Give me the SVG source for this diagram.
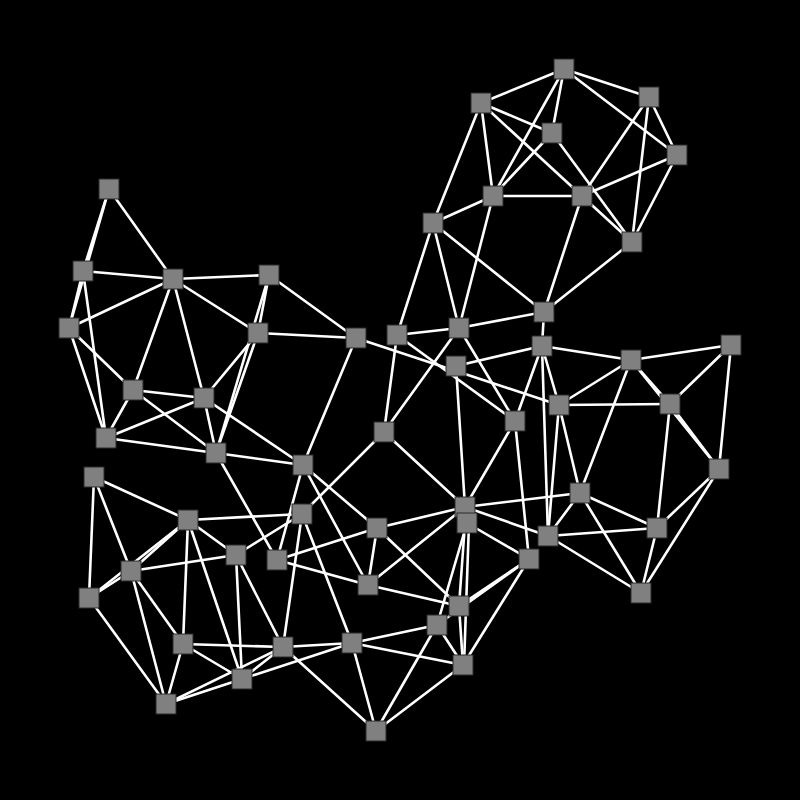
<svg xmlns="http://www.w3.org/2000/svg" width="800" height="800" viewBox="0 0 800 800">
<style>
.e line{stroke:#ffffff;stroke-width:2.6;stroke-linecap:round}
.n rect{fill:#808080;stroke:#2a2a2a;stroke-width:1;width:20px;height:20px}
</style>
<rect x="0" y="0" width="800" height="800" fill="#000000"/>
<g id="edges" class="e">
<line x1="109" y1="189" x2="83" y2="271"/>
<line x1="109" y1="189" x2="69" y2="328"/>
<line x1="109" y1="189" x2="173" y2="279"/>
<line x1="83" y1="271" x2="173" y2="279"/>
<line x1="83" y1="271" x2="69" y2="328"/>
<line x1="83" y1="271" x2="106" y2="438"/>
<line x1="173" y1="279" x2="269" y2="275"/>
<line x1="173" y1="279" x2="69" y2="328"/>
<line x1="173" y1="279" x2="133" y2="390"/>
<line x1="173" y1="279" x2="204" y2="398"/>
<line x1="173" y1="279" x2="258" y2="333"/>
<line x1="269" y1="275" x2="258" y2="333"/>
<line x1="269" y1="275" x2="216" y2="453"/>
<line x1="258" y1="333" x2="216" y2="453"/>
<line x1="269" y1="275" x2="356" y2="338"/>
<line x1="258" y1="333" x2="356" y2="338"/>
<line x1="258" y1="333" x2="204" y2="398"/>
<line x1="69" y1="328" x2="133" y2="390"/>
<line x1="69" y1="328" x2="106" y2="438"/>
<line x1="133" y1="390" x2="204" y2="398"/>
<line x1="133" y1="390" x2="106" y2="438"/>
<line x1="133" y1="390" x2="216" y2="453"/>
<line x1="204" y1="398" x2="106" y2="438"/>
<line x1="204" y1="398" x2="216" y2="453"/>
<line x1="204" y1="398" x2="303" y2="465"/>
<line x1="106" y1="438" x2="216" y2="453"/>
<line x1="216" y1="453" x2="303" y2="465"/>
<line x1="356" y1="338" x2="303" y2="465"/>
<line x1="216" y1="453" x2="277" y2="560"/>
<line x1="303" y1="465" x2="277" y2="560"/>
<line x1="303" y1="465" x2="377" y2="528"/>
<line x1="303" y1="465" x2="368" y2="585"/>
<line x1="356" y1="338" x2="559" y2="405"/>
<line x1="188" y1="520" x2="94" y2="477"/>
<line x1="188" y1="520" x2="302" y2="514"/>
<line x1="188" y1="520" x2="236" y2="555"/>
<line x1="188" y1="520" x2="131" y2="571"/>
<line x1="188" y1="520" x2="89" y2="598"/>
<line x1="131" y1="571" x2="89" y2="598"/>
<line x1="188" y1="520" x2="183" y2="644"/>
<line x1="188" y1="520" x2="242" y2="679"/>
<line x1="94" y1="477" x2="89" y2="598"/>
<line x1="94" y1="477" x2="131" y2="571"/>
<line x1="131" y1="571" x2="236" y2="555"/>
<line x1="131" y1="571" x2="183" y2="644"/>
<line x1="131" y1="571" x2="166" y2="704"/>
<line x1="89" y1="598" x2="166" y2="704"/>
<line x1="236" y1="555" x2="302" y2="514"/>
<line x1="236" y1="555" x2="242" y2="679"/>
<line x1="236" y1="555" x2="283" y2="647"/>
<line x1="277" y1="560" x2="377" y2="528"/>
<line x1="277" y1="560" x2="368" y2="585"/>
<line x1="377" y1="528" x2="368" y2="585"/>
<line x1="183" y1="644" x2="283" y2="647"/>
<line x1="183" y1="644" x2="242" y2="679"/>
<line x1="183" y1="644" x2="166" y2="704"/>
<line x1="283" y1="647" x2="352" y2="643"/>
<line x1="242" y1="679" x2="283" y2="647"/>
<line x1="166" y1="704" x2="283" y2="647"/>
<line x1="166" y1="704" x2="242" y2="679"/>
<line x1="242" y1="679" x2="352" y2="643"/>
<line x1="283" y1="647" x2="376" y2="731"/>
<line x1="352" y1="643" x2="376" y2="731"/>
<line x1="302" y1="514" x2="283" y2="647"/>
<line x1="302" y1="514" x2="352" y2="643"/>
<line x1="384" y1="432" x2="302" y2="514"/>
<line x1="352" y1="643" x2="437" y2="625"/>
<line x1="352" y1="643" x2="463" y2="665"/>
<line x1="437" y1="625" x2="376" y2="731"/>
<line x1="463" y1="665" x2="376" y2="731"/>
<line x1="437" y1="625" x2="463" y2="665"/>
<line x1="459" y1="606" x2="463" y2="665"/>
<line x1="529" y1="559" x2="463" y2="665"/>
<line x1="377" y1="528" x2="465" y2="507"/>
<line x1="377" y1="528" x2="459" y2="606"/>
<line x1="368" y1="585" x2="465" y2="507"/>
<line x1="368" y1="585" x2="459" y2="606"/>
<line x1="384" y1="432" x2="465" y2="507"/>
<line x1="456" y1="366" x2="465" y2="507"/>
<line x1="515" y1="421" x2="465" y2="507"/>
<line x1="465" y1="507" x2="548" y2="536"/>
<line x1="467" y1="523" x2="529" y2="559"/>
<line x1="465" y1="507" x2="580" y2="493"/>
<line x1="465" y1="523" x2="459" y2="606"/>
<line x1="467" y1="523" x2="437" y2="625"/>
<line x1="469" y1="523" x2="464" y2="665"/>
<line x1="529" y1="559" x2="459" y2="606"/>
<line x1="529" y1="559" x2="437" y2="625"/>
<line x1="515" y1="421" x2="529" y2="559"/>
<line x1="542" y1="346" x2="548" y2="536"/>
<line x1="559" y1="405" x2="548" y2="536"/>
<line x1="548" y1="536" x2="580" y2="493"/>
<line x1="548" y1="536" x2="657" y2="528"/>
<line x1="548" y1="536" x2="641" y2="593"/>
<line x1="580" y1="493" x2="657" y2="528"/>
<line x1="580" y1="493" x2="641" y2="593"/>
<line x1="657" y1="528" x2="641" y2="593"/>
<line x1="670" y1="404" x2="657" y2="528"/>
<line x1="719" y1="469" x2="657" y2="528"/>
<line x1="719" y1="469" x2="641" y2="593"/>
<line x1="631" y1="360" x2="580" y2="493"/>
<line x1="559" y1="405" x2="580" y2="493"/>
<line x1="559" y1="405" x2="670" y2="404"/>
<line x1="631" y1="360" x2="559" y2="405"/>
<line x1="631" y1="360" x2="670" y2="404"/>
<line x1="670" y1="404" x2="719" y2="469"/>
<line x1="631" y1="360" x2="719" y2="469"/>
<line x1="631" y1="360" x2="731" y2="345"/>
<line x1="731" y1="345" x2="670" y2="404"/>
<line x1="731" y1="345" x2="719" y2="469"/>
<line x1="542" y1="346" x2="631" y2="360"/>
<line x1="542" y1="346" x2="559" y2="405"/>
<line x1="542" y1="346" x2="515" y2="421"/>
<line x1="456" y1="366" x2="542" y2="346"/>
<line x1="397" y1="335" x2="515" y2="421"/>
<line x1="459" y1="328" x2="515" y2="421"/>
<line x1="397" y1="335" x2="384" y2="432"/>
<line x1="459" y1="328" x2="384" y2="432"/>
<line x1="397" y1="335" x2="459" y2="328"/>
<line x1="397" y1="335" x2="433" y2="223"/>
<line x1="459" y1="328" x2="433" y2="223"/>
<line x1="459" y1="328" x2="493" y2="196"/>
<line x1="459" y1="328" x2="544" y2="312"/>
<line x1="544" y1="312" x2="542" y2="346"/>
<line x1="564" y1="69" x2="481" y2="103"/>
<line x1="564" y1="69" x2="649" y2="97"/>
<line x1="564" y1="69" x2="552" y2="133"/>
<line x1="564" y1="69" x2="493" y2="196"/>
<line x1="564" y1="69" x2="677" y2="155"/>
<line x1="481" y1="103" x2="552" y2="133"/>
<line x1="481" y1="103" x2="493" y2="196"/>
<line x1="481" y1="103" x2="433" y2="223"/>
<line x1="481" y1="103" x2="582" y2="196"/>
<line x1="649" y1="97" x2="677" y2="155"/>
<line x1="649" y1="97" x2="582" y2="196"/>
<line x1="649" y1="97" x2="632" y2="242"/>
<line x1="552" y1="133" x2="493" y2="196"/>
<line x1="552" y1="133" x2="632" y2="242"/>
<line x1="677" y1="155" x2="582" y2="196"/>
<line x1="677" y1="155" x2="632" y2="242"/>
<line x1="493" y1="196" x2="582" y2="196"/>
<line x1="493" y1="196" x2="433" y2="223"/>
<line x1="582" y1="196" x2="632" y2="242"/>
<line x1="582" y1="196" x2="544" y2="312"/>
<line x1="433" y1="223" x2="544" y2="312"/>
<line x1="632" y1="242" x2="544" y2="312"/>
</g>
<g id="nodes" class="n">
<g id="n1"><rect x="99" y="179"/></g>
<g id="n2"><rect x="73" y="261"/></g>
<g id="n3"><rect x="163" y="269"/></g>
<g id="n4"><rect x="259" y="265"/></g>
<g id="n5"><rect x="59" y="318"/></g>
<g id="n6"><rect x="248" y="323"/></g>
<g id="n7"><rect x="346" y="328"/></g>
<g id="n8"><rect x="123" y="380"/></g>
<g id="n9"><rect x="194" y="388"/></g>
<g id="n10"><rect x="96" y="428"/></g>
<g id="n11"><rect x="206" y="443"/></g>
<g id="n12"><rect x="293" y="455"/></g>
<g id="n13"><rect x="84" y="467"/></g>
<g id="n14"><rect x="374" y="422"/></g>
<g id="n15"><rect x="292" y="504"/></g>
<g id="n16"><rect x="267" y="550"/></g>
<g id="n17"><rect x="178" y="510"/></g>
<g id="n18"><rect x="367" y="518"/></g>
<g id="n19"><rect x="121" y="561"/></g>
<g id="n20"><rect x="226" y="545"/></g>
<g id="n21"><rect x="358" y="575"/></g>
<g id="n22"><rect x="79" y="588"/></g>
<g id="n23"><rect x="173" y="634"/></g>
<g id="n24"><rect x="273" y="637"/></g>
<g id="n25"><rect x="342" y="633"/></g>
<g id="n26"><rect x="232" y="669"/></g>
<g id="n27"><rect x="156" y="694"/></g>
<g id="n28"><rect x="366" y="721"/></g>
<g id="n29"><rect x="455" y="497"/></g>
<g id="n30"><rect x="457" y="513"/></g>
<g id="n31"><rect x="505" y="411"/></g>
<g id="n32"><rect x="549" y="395"/></g>
<g id="n33"><rect x="538" y="526"/></g>
<g id="n34"><rect x="519" y="549"/></g>
<g id="n35"><rect x="449" y="596"/></g>
<g id="n36"><rect x="427" y="615"/></g>
<g id="n37"><rect x="453" y="655"/></g>
<g id="n38"><rect x="387" y="325"/></g>
<g id="n39"><rect x="449" y="318"/></g>
<g id="n40"><rect x="446" y="356"/></g>
<g id="n41"><rect x="554" y="59"/></g>
<g id="n42"><rect x="471" y="93"/></g>
<g id="n43"><rect x="639" y="87"/></g>
<g id="n44"><rect x="542" y="123"/></g>
<g id="n45"><rect x="667" y="145"/></g>
<g id="n46"><rect x="483" y="186"/></g>
<g id="n47"><rect x="572" y="186"/></g>
<g id="n48"><rect x="423" y="213"/></g>
<g id="n49"><rect x="622" y="232"/></g>
<g id="n50"><rect x="534" y="302"/></g>
<g id="n51"><rect x="532" y="336"/></g>
<g id="n52"><rect x="621" y="350"/></g>
<g id="n53"><rect x="721" y="335"/></g>
<g id="n54"><rect x="660" y="394"/></g>
<g id="n55"><rect x="709" y="459"/></g>
<g id="n56"><rect x="570" y="483"/></g>
<g id="n57"><rect x="647" y="518"/></g>
<g id="n58"><rect x="631" y="583"/></g>
</g>
</svg>
